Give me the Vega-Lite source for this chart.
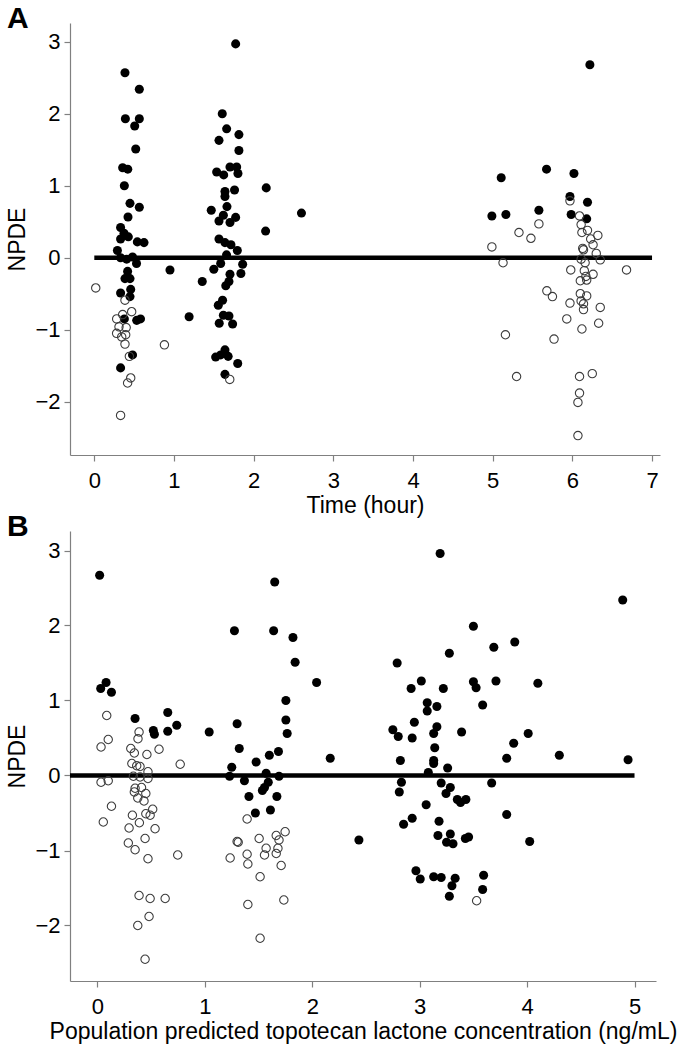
{
 "$schema": "https://vega.github.io/schema/vega-lite/v6.json",
 "padding": {"left": 6, "top": 4, "right": 2, "bottom": 2},
 "background": "white",
 "spacing": -5,
 "config": {
  "font": "Liberation Sans",
  "view": {"stroke": null},
  "axis": {"grid": false, "domainColor": "#808080", "tickColor": "#808080", "labelColor": "#000000", "titleColor": "#000000", "labelFontSize": 22, "titleFontSize": 23, "titleFontWeight": "normal", "tickSize": 6, "labelPadding": 4, "domainWidth": 1.2, "tickWidth": 1.2, "format": "d"},
  "axisX": {"labelPadding": 9, "titlePadding": 3},
  "axisY": {"titlePadding": 5},
  "title": {"fontSize": 30, "fontWeight": "bold", "anchor": "start", "frame": "bounds", "color": "#000000", "baseline": "alphabetic", "offset": -11}
 },
 "datasets": {
  "a": [
   {"t":0.385,"v":2.57,"k":"f"},{"t":0.565,"v":2.34,"k":"f"},{"t":0.39,"v":1.93,"k":"f"},{"t":0.565,"v":1.93,"k":"f"},{"t":0.507,"v":1.83,"k":"f"},{"t":0.52,"v":1.51,"k":"f"},{"t":0.356,"v":1.25,"k":"f"},{"t":0.42,"v":1.23,"k":"f"},{"t":0.377,"v":1.0,"k":"f"},{"t":0.448,"v":0.755,"k":"f"},{"t":0.565,"v":0.7,"k":"f"},{"t":0.423,"v":0.565,"k":"f"},{"t":0.33,"v":0.42,"k":"f"},{"t":0.373,"v":0.34,"k":"f"},{"t":0.427,"v":0.29,"k":"f"},{"t":0.33,"v":0.26,"k":"f"},{"t":0.54,"v":0.22,"k":"f"},{"t":0.624,"v":0.21,"k":"f"},{"t":0.29,"v":0.1,"k":"f"},{"t":0.33,"v":0.0,"k":"f"},{"t":0.406,"v":-0.02,"k":"f"},{"t":0.48,"v":0.01,"k":"f"},{"t":0.53,"v":-0.08,"k":"f"},{"t":0.418,"v":-0.19,"k":"f"},{"t":0.385,"v":-0.29,"k":"f"},{"t":0.448,"v":-0.29,"k":"f"},{"t":0.33,"v":-0.49,"k":"f"},{"t":0.457,"v":-0.44,"k":"f"},{"t":0.448,"v":-0.54,"k":"f"},{"t":0.377,"v":-0.85,"k":"f"},{"t":0.532,"v":-0.87,"k":"f"},{"t":0.58,"v":-0.85,"k":"f"},{"t":0.48,"v":-1.35,"k":"f"},{"t":0.33,"v":-1.53,"k":"f"},{"t":0.95,"v":-0.17,"k":"f"},{"t":1.19,"v":-0.82,"k":"f"},{"t":1.355,"v":-0.33,"k":"f"},
   {"t":0.018,"v":-0.42,"k":"o"},{"t":0.385,"v":-0.59,"k":"o"},{"t":0.469,"v":-0.75,"k":"o"},{"t":0.281,"v":-0.85,"k":"o"},{"t":0.356,"v":-0.79,"k":"o"},{"t":0.31,"v":-0.96,"k":"o"},{"t":0.4,"v":-0.97,"k":"o"},{"t":0.28,"v":-1.05,"k":"o"},{"t":0.344,"v":-1.1,"k":"o"},{"t":0.394,"v":-1.07,"k":"o"},{"t":0.385,"v":-1.2,"k":"o"},{"t":0.88,"v":-1.21,"k":"o"},{"t":0.44,"v":-1.37,"k":"o"},{"t":0.457,"v":-1.67,"k":"o"},{"t":0.418,"v":-1.74,"k":"o"},{"t":0.33,"v":-2.19,"k":"o"},
   {"t":1.774,"v":2.97,"k":"f"},{"t":1.606,"v":2.0,"k":"f"},{"t":1.661,"v":1.79,"k":"f"},{"t":1.565,"v":1.63,"k":"f"},{"t":1.815,"v":1.71,"k":"f"},{"t":1.815,"v":1.49,"k":"f"},{"t":1.703,"v":1.26,"k":"f"},{"t":1.787,"v":1.26,"k":"f"},{"t":1.536,"v":1.19,"k":"f"},{"t":1.624,"v":1.15,"k":"f"},{"t":1.803,"v":1.17,"k":"f"},{"t":2.158,"v":0.97,"k":"f"},{"t":1.64,"v":0.92,"k":"f"},{"t":1.76,"v":0.94,"k":"f"},{"t":1.64,"v":0.85,"k":"f"},{"t":1.665,"v":0.71,"k":"f"},{"t":1.468,"v":0.66,"k":"f"},{"t":2.6,"v":0.62,"k":"f"},{"t":1.62,"v":0.59,"k":"f"},{"t":1.774,"v":0.56,"k":"f"},{"t":1.565,"v":0.51,"k":"f"},{"t":1.703,"v":0.49,"k":"f"},{"t":2.15,"v":0.37,"k":"f"},{"t":1.565,"v":0.26,"k":"f"},{"t":1.64,"v":0.21,"k":"f"},{"t":1.715,"v":0.18,"k":"f"},{"t":1.795,"v":0.1,"k":"f"},{"t":1.66,"v":0.04,"k":"f"},{"t":1.586,"v":-0.08,"k":"f"},{"t":1.862,"v":-0.09,"k":"f"},{"t":1.5,"v":-0.16,"k":"f"},{"t":1.703,"v":-0.23,"k":"f"},{"t":1.84,"v":-0.22,"k":"f"},{"t":1.69,"v":-0.33,"k":"f"},{"t":1.65,"v":-0.39,"k":"f"},{"t":1.61,"v":-0.59,"k":"f"},{"t":1.556,"v":-0.66,"k":"f"},{"t":1.62,"v":-0.8,"k":"f"},{"t":1.69,"v":-0.81,"k":"f"},{"t":1.568,"v":-0.91,"k":"f"},{"t":1.736,"v":-0.92,"k":"f"},{"t":1.64,"v":-1.28,"k":"f"},{"t":1.523,"v":-1.38,"k":"f"},{"t":1.586,"v":-1.35,"k":"f"},{"t":1.68,"v":-1.37,"k":"f"},{"t":1.8,"v":-1.47,"k":"f"},{"t":1.64,"v":-1.62,"k":"f"},
   {"t":1.7,"v":-1.69,"k":"o"},
   {"t":6.22,"v":2.68,"k":"f"},{"t":5.107,"v":1.11,"k":"f"},{"t":5.676,"v":1.23,"k":"f"},{"t":6.02,"v":1.17,"k":"f"},{"t":5.97,"v":0.85,"k":"f"},{"t":6.19,"v":0.77,"k":"f"},{"t":4.99,"v":0.58,"k":"f"},{"t":5.166,"v":0.6,"k":"f"},{"t":5.58,"v":0.66,"k":"f"},{"t":5.985,"v":0.6,"k":"f"},{"t":6.18,"v":0.54,"k":"f"},
   {"t":5.97,"v":0.79,"k":"o"},{"t":5.58,"v":0.47,"k":"o"},{"t":6.09,"v":0.58,"k":"o"},{"t":6.11,"v":0.46,"k":"o"},{"t":5.33,"v":0.35,"k":"o"},{"t":5.48,"v":0.27,"k":"o"},{"t":6.12,"v":0.35,"k":"o"},{"t":6.19,"v":0.38,"k":"o"},{"t":6.32,"v":0.31,"k":"o"},{"t":6.23,"v":0.26,"k":"o"},{"t":4.99,"v":0.15,"k":"o"},{"t":6.13,"v":0.13,"k":"o"},{"t":6.26,"v":0.18,"k":"o"},{"t":6.14,"v":0.11,"k":"o"},{"t":6.3,"v":0.06,"k":"o"},{"t":6.11,"v":-0.02,"k":"o"},{"t":6.35,"v":-0.03,"k":"o"},{"t":5.13,"v":-0.07,"k":"o"},{"t":6.16,"v":-0.07,"k":"o"},{"t":5.98,"v":-0.17,"k":"o"},{"t":6.68,"v":-0.17,"k":"o"},{"t":6.15,"v":-0.18,"k":"o"},{"t":6.26,"v":-0.23,"k":"o"},{"t":6.17,"v":-0.26,"k":"o"},{"t":6.1,"v":-0.32,"k":"o"},{"t":6.18,"v":-0.31,"k":"o"},{"t":5.68,"v":-0.46,"k":"o"},{"t":5.75,"v":-0.54,"k":"o"},{"t":6.1,"v":-0.5,"k":"o"},{"t":6.18,"v":-0.53,"k":"o"},{"t":5.97,"v":-0.63,"k":"o"},{"t":6.11,"v":-0.6,"k":"o"},{"t":6.14,"v":-0.64,"k":"o"},{"t":6.14,"v":-0.72,"k":"o"},{"t":6.35,"v":-0.69,"k":"o"},{"t":5.93,"v":-0.85,"k":"o"},{"t":6.33,"v":-0.91,"k":"o"},{"t":6.12,"v":-0.99,"k":"o"},{"t":5.16,"v":-1.07,"k":"o"},{"t":5.77,"v":-1.13,"k":"o"},{"t":5.3,"v":-1.65,"k":"o"},{"t":6.09,"v":-1.65,"k":"o"},{"t":6.25,"v":-1.61,"k":"o"},{"t":6.09,"v":-1.88,"k":"o"},{"t":6.07,"v":-2.01,"k":"o"},{"t":6.07,"v":-2.47,"k":"o"}
  ],
  "b": [
   {"c":0.02,"v":2.67,"k":"f"},{"c":0.03,"v":1.16,"k":"f"},{"c":0.08,"v":1.24,"k":"f"},{"c":0.13,"v":1.11,"k":"f"},{"c":0.35,"v":0.76,"k":"f"},{"c":0.654,"v":0.84,"k":"f"},{"c":0.52,"v":0.6,"k":"f"},{"c":0.53,"v":0.55,"k":"f"},{"c":0.654,"v":0.59,"k":"f"},{"c":0.738,"v":0.67,"k":"f"},{"c":1.04,"v":0.58,"k":"f"},{"c":1.3,"v":0.69,"k":"f"},{"c":1.32,"v":0.36,"k":"f"},{"c":1.25,"v":0.11,"k":"f"},{"c":1.23,"v":-0.01,"k":"f"},
   {"c":1.65,"v":2.58,"k":"f"},{"c":1.275,"v":1.93,"k":"f"},{"c":1.64,"v":1.93,"k":"f"},{"c":1.82,"v":1.84,"k":"f"},{"c":1.84,"v":1.51,"k":"f"},{"c":2.04,"v":1.24,"k":"f"},{"c":1.754,"v":1.0,"k":"f"},{"c":1.754,"v":0.74,"k":"f"},{"c":1.766,"v":0.56,"k":"f"},{"c":1.6,"v":0.27,"k":"f"},{"c":1.685,"v":0.32,"k":"f"},{"c":1.477,"v":0.18,"k":"f"},{"c":2.167,"v":0.23,"k":"f"},{"c":1.57,"v":0.03,"k":"f"},{"c":1.69,"v":-0.01,"k":"f"},{"c":1.368,"v":-0.07,"k":"f"},{"c":1.59,"v":-0.09,"k":"f"},{"c":1.555,"v":-0.16,"k":"f"},{"c":1.535,"v":-0.2,"k":"f"},{"c":1.41,"v":-0.28,"k":"f"},{"c":1.67,"v":-0.28,"k":"f"},{"c":1.61,"v":-0.46,"k":"f"},{"c":1.47,"v":-0.5,"k":"f"},{"c":2.434,"v":-0.86,"k":"f"},
   {"c":3.19,"v":2.96,"k":"f"},{"c":3.5,"v":1.99,"k":"f"},{"c":3.885,"v":1.78,"k":"f"},{"c":3.69,"v":1.71,"k":"f"},{"c":3.276,"v":1.63,"k":"f"},{"c":2.79,"v":1.5,"k":"f"},{"c":3.015,"v":1.26,"k":"f"},{"c":2.92,"v":1.16,"k":"f"},{"c":3.22,"v":1.16,"k":"f"},{"c":3.5,"v":1.25,"k":"f"},{"c":3.525,"v":1.17,"k":"f"},{"c":3.71,"v":1.26,"k":"f"},{"c":4.1,"v":1.23,"k":"f"},{"c":3.07,"v":0.97,"k":"f"},{"c":3.16,"v":0.92,"k":"f"},{"c":3.07,"v":0.86,"k":"f"},{"c":3.586,"v":0.94,"k":"f"},{"c":2.95,"v":0.71,"k":"f"},{"c":2.75,"v":0.61,"k":"f"},{"c":2.8,"v":0.52,"k":"f"},{"c":2.93,"v":0.5,"k":"f"},{"c":3.16,"v":0.65,"k":"f"},{"c":3.13,"v":0.56,"k":"f"},{"c":3.39,"v":0.58,"k":"f"},{"c":4.01,"v":0.56,"k":"f"},{"c":3.875,"v":0.43,"k":"f"},{"c":3.14,"v":0.37,"k":"f"},{"c":2.82,"v":0.2,"k":"f"},{"c":3.13,"v":0.2,"k":"f"},{"c":3.13,"v":0.16,"k":"f"},{"c":3.81,"v":0.23,"k":"f"},{"c":3.26,"v":0.1,"k":"f"},{"c":3.08,"v":0.04,"k":"f"},{"c":2.83,"v":-0.09,"k":"f"},{"c":3.2,"v":-0.1,"k":"f"},{"c":3.67,"v":-0.1,"k":"f"},{"c":2.81,"v":-0.22,"k":"f"},{"c":3.285,"v":-0.16,"k":"f"},{"c":3.245,"v":-0.24,"k":"f"},{"c":3.35,"v":-0.32,"k":"f"},{"c":3.43,"v":-0.32,"k":"f"},{"c":3.38,"v":-0.36,"k":"f"},{"c":3.06,"v":-0.39,"k":"f"},{"c":3.81,"v":-0.52,"k":"f"},{"c":2.93,"v":-0.57,"k":"f"},{"c":2.85,"v":-0.65,"k":"f"},{"c":3.18,"v":-0.61,"k":"f"},{"c":3.17,"v":-0.8,"k":"f"},{"c":3.285,"v":-0.78,"k":"f"},{"c":3.25,"v":-0.89,"k":"f"},{"c":3.31,"v":-0.91,"k":"f"},{"c":3.425,"v":-0.84,"k":"f"},{"c":3.455,"v":-0.82,"k":"f"},{"c":4.024,"v":-0.88,"k":"f"},{"c":2.965,"v":-1.27,"k":"f"},{"c":3.005,"v":-1.38,"k":"f"},{"c":3.13,"v":-1.35,"k":"f"},{"c":3.2,"v":-1.36,"k":"f"},{"c":3.33,"v":-1.37,"k":"f"},{"c":3.595,"v":-1.33,"k":"f"},{"c":3.3,"v":-1.47,"k":"f"},{"c":3.586,"v":-1.52,"k":"f"},{"c":3.276,"v":-1.61,"k":"f"},{"c":4.3,"v":0.27,"k":"f"},{"c":4.94,"v":0.21,"k":"f"},{"c":4.89,"v":2.34,"k":"f"},
   {"c":0.086,"v":0.8,"k":"o"},{"c":0.387,"v":0.58,"k":"o"},{"c":0.1,"v":0.48,"k":"o"},{"c":0.033,"v":0.38,"k":"o"},{"c":0.377,"v":0.49,"k":"o"},{"c":0.31,"v":0.36,"k":"o"},{"c":0.343,"v":0.3,"k":"o"},{"c":0.46,"v":0.28,"k":"o"},{"c":0.573,"v":0.35,"k":"o"},{"c":0.77,"v":0.15,"k":"o"},{"c":0.32,"v":0.16,"k":"o"},{"c":0.365,"v":0.13,"k":"o"},{"c":0.396,"v":0.12,"k":"o"},{"c":0.47,"v":0.05,"k":"o"},{"c":0.334,"v":-0.01,"k":"o"},{"c":0.396,"v":-0.02,"k":"o"},{"c":0.47,"v":-0.04,"k":"o"},{"c":0.033,"v":-0.09,"k":"o"},{"c":0.1,"v":-0.07,"k":"o"},{"c":0.35,"v":-0.17,"k":"o"},{"c":0.41,"v":-0.16,"k":"o"},{"c":0.343,"v":-0.22,"k":"o"},{"c":0.45,"v":-0.24,"k":"o"},{"c":0.375,"v":-0.3,"k":"o"},{"c":0.433,"v":-0.34,"k":"o"},{"c":0.13,"v":-0.41,"k":"o"},{"c":0.514,"v":-0.45,"k":"o"},{"c":0.45,"v":-0.51,"k":"o"},{"c":0.49,"v":-0.53,"k":"o"},{"c":0.325,"v":-0.53,"k":"o"},{"c":0.39,"v":-0.63,"k":"o"},{"c":0.054,"v":-0.62,"k":"o"},{"c":0.294,"v":-0.7,"k":"o"},{"c":0.536,"v":-0.71,"k":"o"},{"c":0.443,"v":-0.84,"k":"o"},{"c":0.287,"v":-0.9,"k":"o"},{"c":0.35,"v":-0.99,"k":"o"},{"c":0.47,"v":-1.11,"k":"o"},{"c":0.747,"v":-1.06,"k":"o"},{"c":1.235,"v":-1.1,"k":"o"},{"c":1.3,"v":-0.88,"k":"o"},{"c":0.387,"v":-1.6,"k":"o"},{"c":0.49,"v":-1.64,"k":"o"},{"c":0.63,"v":-1.64,"k":"o"},{"c":0.48,"v":-1.88,"k":"o"},{"c":0.375,"v":-2.0,"k":"o"},{"c":0.443,"v":-2.45,"k":"o"},
   {"c":1.393,"v":-0.58,"k":"o"},{"c":1.31,"v":-0.89,"k":"o"},{"c":1.505,"v":-0.84,"k":"o"},{"c":1.664,"v":-0.8,"k":"o"},{"c":1.69,"v":-0.86,"k":"o"},{"c":1.747,"v":-0.75,"k":"o"},{"c":1.57,"v":-0.97,"k":"o"},{"c":1.68,"v":-0.97,"k":"o"},{"c":1.664,"v":-1.04,"k":"o"},{"c":1.555,"v":-1.06,"k":"o"},{"c":1.393,"v":-1.05,"k":"o"},{"c":1.4,"v":-1.18,"k":"o"},{"c":1.71,"v":-1.2,"k":"o"},{"c":1.514,"v":-1.35,"k":"o"},{"c":1.735,"v":-1.66,"k":"o"},{"c":1.4,"v":-1.72,"k":"o"},{"c":1.514,"v":-2.17,"k":"o"},{"c":3.53,"v":-1.67,"k":"o"}
  ]
 },
 "vconcat": [
  {
   "width": 590, "height": 432,
   "title": {"text": "A"},
   "layer": [
    {
     "data": {"values": [{"t": 0, "t2": 7, "v": 0}]},
     "mark": {"type": "rule", "color": "#000000", "strokeWidth": 4.5},
     "encoding": {
      "x": {"field": "t", "type": "quantitative", "scale": {"domain": [-0.305, 7.1], "nice": false, "zero": false}, "axis": {"title": "Time (hour)", "values": [0,1,2,3,4,5,6,7]}},
      "x2": {"field": "t2"},
      "y": {"field": "v", "type": "quantitative", "scale": {"domain": [-2.74, 3.26], "nice": false, "zero": false}, "axis": {"title": "NPDE", "values": [-2,-1,0,1,2,3]}}
     }
    },
    {
     "data": {"name": "a"},
     "transform": [{"filter": "datum.k == 'f'"}],
     "mark": {"type": "point", "shape": "circle", "filled": true, "color": "#000000", "opacity": 1, "size": 82},
     "encoding": {"x": {"field": "t", "type": "quantitative"}, "y": {"field": "v", "type": "quantitative"}}
    },
    {
     "data": {"name": "a"},
     "transform": [{"filter": "datum.k == 'o'"}],
     "mark": {"type": "point", "shape": "circle", "filled": false, "stroke": "#3c3c3c", "strokeWidth": 1.1, "opacity": 1, "size": 70},
     "encoding": {"x": {"field": "t", "type": "quantitative"}, "y": {"field": "v", "type": "quantitative"}}
    }
   ]
  },
  {
   "width": 586, "height": 450,
   "title": {"text": "B"},
   "layer": [
    {
     "data": {"values": [{"c": -0.256, "c2": 5, "v": 0}]},
     "mark": {"type": "rule", "color": "#000000", "strokeWidth": 4.5},
     "encoding": {
      "x": {"field": "c", "type": "quantitative", "scale": {"domain": [-0.256, 5.2], "nice": false, "zero": false}, "axis": {"title": "Population predicted topotecan lactone concentration (ng/mL)", "values": [0,1,2,3,4,5]}},
      "x2": {"field": "c2"},
      "y": {"field": "v", "type": "quantitative", "scale": {"domain": [-2.74, 3.26], "nice": false, "zero": false}, "axis": {"title": "NPDE", "values": [-2,-1,0,1,2,3]}}
     }
    },
    {
     "data": {"name": "b"},
     "transform": [{"filter": "datum.k == 'f'"}],
     "mark": {"type": "point", "shape": "circle", "filled": true, "color": "#000000", "opacity": 1, "size": 82},
     "encoding": {"x": {"field": "c", "type": "quantitative"}, "y": {"field": "v", "type": "quantitative"}}
    },
    {
     "data": {"name": "b"},
     "transform": [{"filter": "datum.k == 'o'"}],
     "mark": {"type": "point", "shape": "circle", "filled": false, "stroke": "#3c3c3c", "strokeWidth": 1.1, "opacity": 1, "size": 70},
     "encoding": {"x": {"field": "c", "type": "quantitative"}, "y": {"field": "v", "type": "quantitative"}}
    }
   ]
  }
 ]
}
